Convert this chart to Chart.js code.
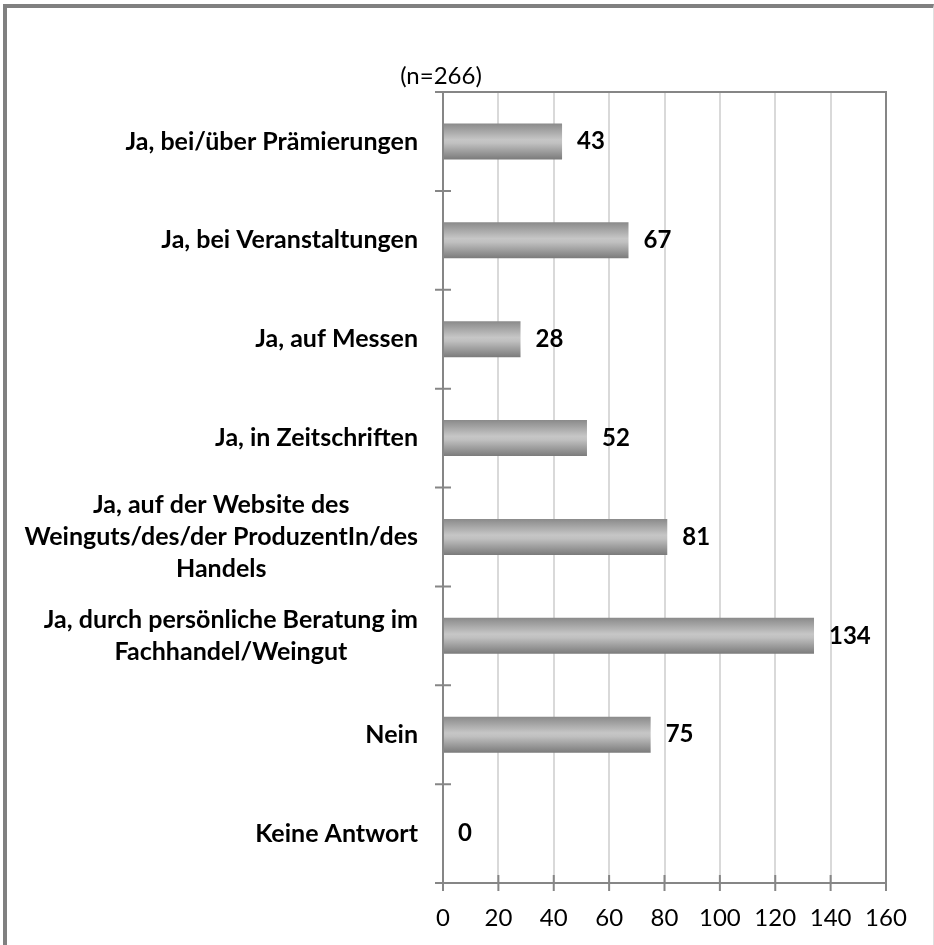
<!DOCTYPE html>
<html>
<head>
<meta charset="utf-8">
<script src="https://cdn.jsdelivr.net/npm/chart.js@4/dist/chart.umd.min.js"></script>
<style>
  body { margin: 0; background: #fff; }
  #wrap { position: relative; width: 934px; height: 945px; }
  #frame {
    position: absolute; left: 3px; top: 4px; width: 926px; height: 945px;
    border-top: 4px solid #808080; border-left: 4px solid #808080; border-right: 1px solid #e0e0e0;
    pointer-events: none;
  }
</style>
</head>
<body>
<div id="wrap">
  <canvas id="chart" width="934" height="945"></canvas>
  <div id="frame"></div>
</div>
<script>
// Chart data
const categories = [
    ['Ja, bei/über Prämierungen'],
    ['Ja, bei Veranstaltungen'],
    ['Ja, auf Messen'],
    ['Ja, in Zeitschriften'],
    ['Ja, auf der Website des', 'Weinguts/des/der ProduzentIn/des', 'Handels'],
    ['Ja, durch persönliche Beratung im', 'Fachhandel/Weingut'],
    ['Nein'],
    ['Keine Antwort']
];
const values = [43, 67, 28, 52, 81, 134, 75, 0];
const titleText = '(n=266)';
const xMin = 0, xMax = 160, xStep = 20;

const axisColor = '#868686';
const fontFamily = 'Lato';

// Gray Excel-like gradient for each bar
function barGradient(context) {
    const chart = context.chart;
    const yScale = chart.scales.y;
    if (!chart.chartArea || !yScale) return '#a6a6a6';
    const center = yScale.getPixelForValue(context.dataIndex);
    const half = (yScale.height / categories.length) * 0.364 / 2;
    const g = chart.ctx.createLinearGradient(0, center - half, 0, center + half);
    g.addColorStop(0, '#8a8a8a');
    g.addColorStop(0.45, '#c6c6c6');
    g.addColorStop(0.55, '#c0c0c0');
    g.addColorStop(1, '#7b7b7b');
    return g;
}

// Title, category labels, value labels, plot border and cross ticks
const decorations = {
    id: 'decorations',
    afterDraw(chart) {
        const ctx = chart.ctx;
        const area = chart.chartArea;
        const xScale = chart.scales.x;
        const yScale = chart.scales.y;
        ctx.save();

        // title
        ctx.fillStyle = '#000';
        ctx.font = '24px ' + fontFamily;
        ctx.textAlign = 'center';
        ctx.textBaseline = 'middle';
        ctx.fillText(titleText, area.left - 2, area.top - 16);

        // category labels, each block centred on itself and right aligned to the axis
        ctx.font = 'bold 25px ' + fontFamily;
        const lineHeight = 32;
        categories.forEach((lines, i) => {
            const cy = yScale.getPixelForValue(i);
            const maxW = Math.max(...lines.map(l => ctx.measureText(l).width));
            const cx = area.left - 25 - maxW / 2;
            const startY = cy - (lines.length - 1) * lineHeight / 2;
            lines.forEach((l, j) => ctx.fillText(l, cx, startY + j * lineHeight));
        });

        // value labels
        ctx.font = 'bold 24px ' + fontFamily;
        ctx.textAlign = 'left';
        const meta = chart.getDatasetMeta(0);
        meta.data.forEach((bar, i) => {
            ctx.fillText(String(values[i]), bar.x + 15, bar.y);
        });

        // plot border (top and right)
        ctx.strokeStyle = axisColor;
        ctx.lineWidth = 2;
        ctx.beginPath();
        ctx.moveTo(area.left - 8, area.top);
        ctx.lineTo(area.right, area.top);
        ctx.lineTo(area.right, area.bottom);
        ctx.stroke();

        // x ticks crossing the axis
        ctx.beginPath();
        for (let v = xMin; v <= xMax; v += xStep) {
            const px = xScale.getPixelForValue(v);
            ctx.moveTo(px, area.bottom - 8);
            ctx.lineTo(px, area.bottom + 8);
        }
        // y ticks between categories, crossing the axis
        const band = yScale.height / categories.length;
        for (let i = 0; i <= categories.length; i++) {
            const py = area.top + i * band;
            ctx.moveTo(area.left - 8, py);
            ctx.lineTo(area.left + 8, py);
        }
        ctx.moveTo(area.left - 8, area.bottom);
        ctx.lineTo(area.left, area.bottom);
        ctx.stroke();

        ctx.restore();
    }
};

Chart.defaults.font.family = fontFamily;
Chart.defaults.color = '#000';

new Chart(document.getElementById('chart'), {
    type: 'bar',
    data: {
        labels: categories.map(c => c.join(' ')),
        datasets: [{
            data: values,
            backgroundColor: barGradient,
            borderWidth: 0,
            categoryPercentage: 1,
            barPercentage: 0.364
        }]
    },
    options: {
        indexAxis: 'y',
        responsive: false,
        animation: false,
        layout: { padding: { top: 92, right: 48, left: 0, bottom: 0 } },
        plugins: {
            legend: { display: false },
            title: { display: false },
            tooltip: { enabled: false }
        },
        scales: {
            x: {
                min: xMin,
                max: xMax,
                ticks: {
                    stepSize: xStep,
                    padding: 21,
                    font: { size: 24 },
                    color: '#000'
                },
                grid: { color: '#d9d9d9', lineWidth: 2, drawTicks: false },
                border: { color: axisColor, width: 2 },
                afterFit(scale) { scale.height = 62; }
            },
            y: {
                ticks: { display: false },
                grid: { display: false },
                border: { color: axisColor, width: 2 },
                afterFit(scale) { scale.width = 443; }
            }
        }
    },
    plugins: [decorations]
});
</script>
</body>
</html>
